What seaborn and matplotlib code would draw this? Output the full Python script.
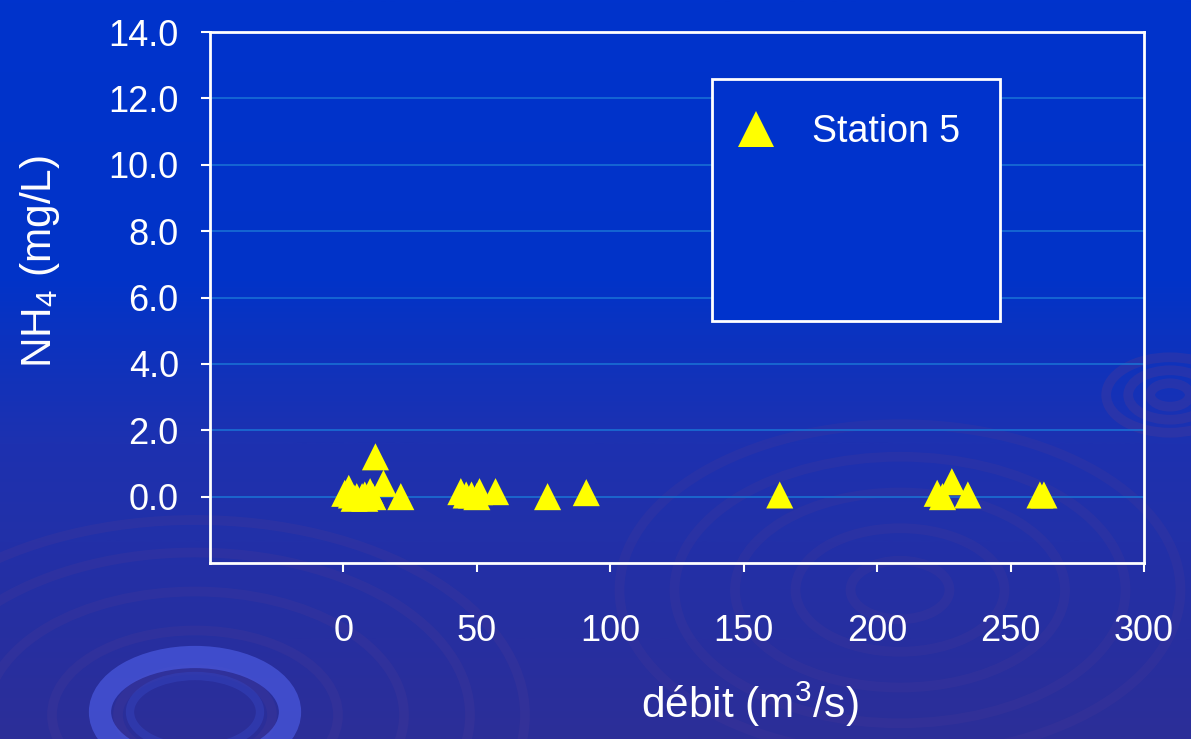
import numpy as np
import pandas as pd
import matplotlib
matplotlib.use("Agg")
import matplotlib.pyplot as plt
from matplotlib.patches import Rectangle, Ellipse
from matplotlib.colors import LinearSegmentedColormap
import seaborn as sns

# Flow (m3/s) and ammonium (mg/L) measured at station 5
debit = [0.5, 2, 3, 4, 5, 7, 8, 8, 10, 11, 12, 15, 21.5,
         44, 46, 48, 50, 51, 57, 76.5, 91, 163.5,
         222.5, 224.5, 228, 234, 261, 262.5]
nh4 = [0.10, 0.25, 0.05, -0.05, 0.00, 0.00, 0.05, -0.05, 0.15, 0.00, 1.20, 0.40, 0.00,
       0.15, 0.05, 0.05, 0.00, 0.15, 0.15, 0.00, 0.12, 0.05,
       0.10, 0.00, 0.45, 0.05, 0.05, 0.05]
series_name = "Station 5"

x_ticks = [0, 50, 100, 150, 200, 250, 300]
y_ticks = [0, 2, 4, 6, 8, 10, 12, 14]

df = pd.DataFrame({"debit": debit, "nh4": nh4, "station": series_name})

sns.set_theme(style="white")
plt.rcParams["font.family"] = ["Liberation Sans", "DejaVu Sans"]
plt.rcParams["mathtext.default"] = "regular"

W, H = 1191, 739
fig = plt.figure(figsize=(W / 100, H / 100), dpi=100)

# Slide-style background: vivid blue fading to indigo, with faint ripples
bg = fig.add_axes([0, 0, 1, 1], zorder=-10)
bg.set_axis_off()
cmap = LinearSegmentedColormap.from_list(
    "slide", [(0.0, "#0033cc"), (0.38, "#0234c8"), (0.6, "#1d31b0"), (1.0, "#2c2e98")])
grad = np.linspace(0, 1, 400).reshape(-1, 1)
bg.imshow(grad, aspect="auto", cmap=cmap, extent=[0, W, H, 0])
bg.set_xlim(0, W)
bg.set_ylim(H, 0)
ring_col = "#4b3a98"
for cx, cy, radii, alpha in [
    (195, 715, [70, 130, 190, 250, 300], 0.25),
    (900, 590, [45, 95, 150, 205, 255], 0.22),
    (1170, 395, [18, 38, 58], 0.35),
]:
    for r in radii:
        bg.add_patch(Ellipse((cx, cy), 2.2 * r, 1.3 * r, fill=False,
                             ec=ring_col, lw=7, alpha=alpha))
bg.add_patch(Ellipse((195, 712), 190, 110, fill=False, ec="#4a5ae0", lw=16, alpha=0.7))
bg.add_patch(Ellipse((195, 712), 130, 72, fill=False, ec="#3340b8", lw=6, alpha=0.6))

ax = fig.add_axes([210 / W, 1 - 563 / H, 934 / W, 531 / H])
ax.set_facecolor("none")

sns.scatterplot(data=df, x="debit", y="nh4", hue="station",
                palette=["#ffff00"], marker="^", s=380, linewidth=0,
                ax=ax, zorder=4)

ax.set_xlim(-50, 300)
ax.set_ylim(-2, 14)
ax.set_xticks(x_ticks)
ax.set_yticks(y_ticks)
ax.set_yticklabels([f"{v:.1f}" for v in y_ticks])
ax.grid(axis="y", color="#1a74d6", lw=1.1, zorder=0)
ax.set_axisbelow(True)

for sp in ax.spines.values():
    sp.set_color("white")
    sp.set_linewidth(2)
    sp.set_visible(True)

ax.tick_params(axis="both", colors="white", direction="out", length=6.5,
               width=1.5, labelsize=26, labelcolor="white")
ax.tick_params(axis="x", pad=30)
ax.tick_params(axis="y", pad=16)
ax.xaxis.set_ticks_position("bottom")
ax.yaxis.set_ticks_position("left")

ax.set_xlabel("débit (m$^3$/s)", color="white", fontsize=30.5)
ax.set_ylabel("NH$_4$ (mg/L)", color="white", fontsize=30.5)
ax.xaxis.set_label_coords(0.578, -0.267)
ax.yaxis.set_label_coords(-0.182, 0.567)
ax.xaxis.label.set_va("center")
ax.yaxis.label.set_va("center")

# Legend box drawn as a framed panel, legend entry placed inside it
ax.add_patch(Rectangle((0.5375, 0.4557), 0.3083, 0.4558, transform=ax.transAxes,
                       fc="#0033cc", ec="white", lw=2, zorder=3))
leg = ax.legend(loc="upper left", bbox_to_anchor=(0.564, 0.845), frameon=False,
                fontsize=27, handlelength=1.0, handletextpad=1.0, borderpad=0,
                borderaxespad=0, markerscale=1.35)
for t in leg.get_texts():
    t.set_color("white")
leg.set_zorder(6)

fig.savefig("out.png", dpi=100)
